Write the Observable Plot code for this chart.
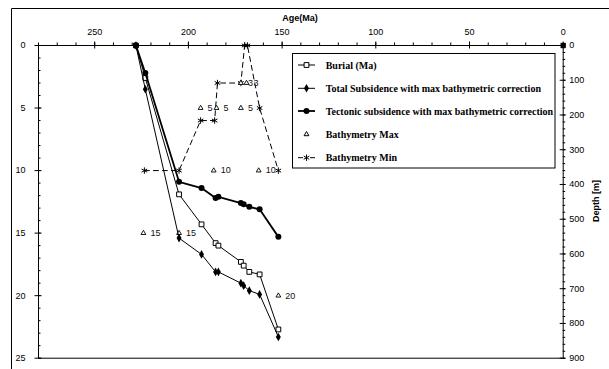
<!DOCTYPE html>
<html><head><meta charset="utf-8">
<script src="https://cdn.jsdelivr.net/npm/d3@7"></script>
<script src="https://cdn.jsdelivr.net/npm/@observablehq/plot@0.6"></script>
<style>body{margin:0;background:#fff}#chart svg{display:block}</style>
</head><body><div id="chart"></div>
<script>
// ---- data ----
const ages      = [228, 223, 205, 193, 185.5, 184, 172, 170.5, 167.5, 162, 152];
const burial    = [0, 2.6, 11.9, 14.3, 15.8, 16.0, 17.3, 17.6, 18.1, 18.3, 22.7];
const total     = [0, 3.5, 15.4, 16.7, 18.1, 18.1, 19.0, 19.2, 19.6, 19.9, 23.3];
const tectonic  = [0, 2.2, 10.9, 11.4, 12.2, 12.1, 12.6, 12.7, 12.9, 13.1, 15.3];

const bathyMinAges = [223.5, 205, 193.5, 186, 184.5, 172, 170, 168.5, 162, 152];
const bathyMin     = [10, 10, 6, 6, 3, 3, 0, 0, 5, 10];

const bathyMaxAges = [224, 205, 193.5, 186.5, 185, 172, 172, 169, 162.5, 152];
const bathyMax     = [15, 15, 5, 10, 5, 5, 3, 3, 10, 20];

const anchorAges = [0];     // secondary-axis series point (0 Ma, 0 m)
const anchorDepthM = [0];

const ageTicks = [250, 200, 150, 100, 50, 0];
const ageMinor = d3.range(0, 281, 10);
const depthTicks = [0, 5, 10, 15, 20, 25];
const depthMinor = d3.range(0, 26, 1);
const meterTicks = d3.range(0, 901, 100);
const meterMinor = d3.range(0, 901, 20);
const M_PER_UNIT = 900 / 25;

const legendItems = [
  "Burial (Ma)",
  "Total Subsidence with max bathymetric correction",
  "Tectonic subsidence with max bathymetric correction",
  "Bathymetry Max",
  "Bathymetry Min"
];

// ---- tables ----
const burialT = ages.map((a, i) => ({age: a, depth: burial[i]}));
const totalT = ages.map((a, i) => ({age: a, depth: total[i]}));
const tectT = ages.map((a, i) => ({age: a, depth: tectonic[i]}));
const minT = bathyMinAges.map((a, i) => ({age: a, depth: bathyMin[i]}));
const maxT = bathyMaxAges.map((a, i) => ({age: a, depth: bathyMax[i]}));
const anchorT = anchorAges.map((a, i) => ({age: a, depth: anchorDepthM[i] / M_PER_UNIT}));

const SANS = "'Liberation Sans', Arial, sans-serif";
const SERIF = "'Liberation Serif', 'Times New Roman', serif";

const plot = Plot.plot({
  width: 609, height: 369,
  marginLeft: 38, marginRight: 46.3, marginTop: 45, marginBottom: 11.3,
  style: {background: "white", fontFamily: SANS, overflow: "visible"},
  x: {domain: [280, 0], axis: null},
  y: {domain: [0, 25], reverse: true, axis: null},
  marks: [
    Plot.frame({stroke: "black", strokeWidth: 1}),
    // top axis
    Plot.ruleX(ageMinor, {x: d => d, y1: () => 0, y2: () => 0, insetTop: 0, insetBottom: 2.5, stroke: "black"}),
    Plot.ruleX(ageTicks, {x: d => d, y1: () => 0, y2: () => 0, insetTop: 3.5, insetBottom: 3.5, stroke: "black"}),
    Plot.text(ageTicks, {x: d => d, y: () => 0, dy: -13, text: d => String(d), fontSize: 9, fill: "black"}),
    // left axis
    Plot.ruleY(depthMinor, {y: d => d, x1: () => 280, x2: () => 280, insetLeft: 0, insetRight: -2.5, stroke: "black"}),
    Plot.ruleY(depthTicks, {y: d => d, x1: () => 280, x2: () => 280, insetLeft: -3.5, insetRight: -3.5, stroke: "black"}),
    Plot.text(depthTicks, {x: () => 280, y: d => d, dx: -13, textAnchor: "end", text: d => String(d), fontSize: 9, fill: "black"}),
    // right axis (metres)
    Plot.ruleY(meterMinor, {y: m => m / M_PER_UNIT, x1: () => 0, x2: () => 0, insetLeft: 0, insetRight: -2.5, stroke: "black"}),
    Plot.ruleY(meterTicks, {y: m => m / M_PER_UNIT, x1: () => 0, x2: () => 0, insetLeft: -3, insetRight: -3, stroke: "black"}),
    Plot.text(meterTicks, {x: () => 0, y: m => m / M_PER_UNIT, dx: 6, textAnchor: "start", text: m => String(m), fontSize: 9, fill: "black"}),
    Plot.dot(anchorT, {x: "age", y: "depth", symbol: "square", r: 3, fill: "black"}),
    // bathymetry min
    Plot.line(minT, {x: "age", y: "depth", stroke: "black", strokeWidth: 1, strokeDasharray: "5,4"}),
    Plot.dot(minT, {x: "age", y: "depth", symbol: "asterisk", r: 3, stroke: "black", strokeWidth: 1}),
    // bathymetry max
    Plot.dot(maxT, {x: "age", y: "depth", symbol: "triangle2", r: 2.3, stroke: "black", fill: "white", strokeWidth: 0.9}),
    Plot.text(maxT, {x: "age", y: "depth", text: d => String(d.depth), dx: 7, textAnchor: "start", fontSize: 9, fill: "#111"}),
    // burial
    Plot.line(burialT, {x: "age", y: "depth", stroke: "black", strokeWidth: 1}),
    Plot.dot(burialT, {x: "age", y: "depth", symbol: "square", r: 2.7, fill: "white", stroke: "black", strokeWidth: 1}),
    // total subsidence
    Plot.line(totalT, {x: "age", y: "depth", stroke: "black", strokeWidth: 1}),
    Plot.dot(totalT, {x: "age", y: "depth", symbol: "diamond", r: 2.6, fill: "black"}),
    // tectonic subsidence
    Plot.line(tectT, {x: "age", y: "depth", stroke: "black", strokeWidth: 1.8}),
    Plot.dot(tectT, {x: "age", y: "depth", symbol: "circle", r: 3, fill: "black"})
  ]
});
document.getElementById("chart").append(plot);

// ---- decorations: outer frame, axis titles, legend ----
const svg = d3.select(plot);
svg.append("path").attr("d", "M11.5,369 V8.5 H609").attr("fill", "none").attr("stroke", "black");
svg.append("text").attr("x", 300).attr("y", 21).attr("text-anchor", "middle")
  .attr("font-family", SANS).attr("font-weight", "bold").attr("font-size", 9).text("Age(Ma)");
svg.append("text").attr("transform", "translate(599,201) rotate(-90)").attr("text-anchor", "middle")
  .attr("font-family", SANS).attr("font-weight", "bold").attr("font-size", 9).text("Depth [m]");

const lg = svg.append("g");
lg.append("rect").attr("x", 292.5).attr("y", 53.5).attr("width", 262.5).attr("height", 114.5)
  .attr("fill", "white").attr("stroke", "black");
const rows = [65, 88.3, 111, 134.3, 157.7];
const symFor = [
  {type: d3.symbolSquare, size: Math.PI * 2.7 * 2.7, fill: "white", stroke: "black", line: true},
  {type: d3.symbolDiamond, size: Math.PI * 2.6 * 2.6, fill: "black", stroke: "none", line: true},
  {type: d3.symbolCircle, size: Math.PI * 3 * 3, fill: "black", stroke: "none", line: true},
  {type: d3.symbolTriangle2, size: Math.PI * 2.3 * 2.3, fill: "white", stroke: "black", line: false},
  {type: d3.symbolAsterisk, size: Math.PI * 3 * 3, fill: "none", stroke: "black", line: true}
];
legendItems.forEach((label, i) => {
  const y = rows[i], s = symFor[i];
  if (s.line) {
    if (i === 4) {
      lg.append("line").attr("x1", 298).attr("x2", 303).attr("y1", y).attr("y2", y).attr("stroke", "black");
      lg.append("line").attr("x1", 310).attr("x2", 315).attr("y1", y).attr("y2", y).attr("stroke", "black");
    } else {
      lg.append("line").attr("x1", 298).attr("x2", 315).attr("y1", y).attr("y2", y)
        .attr("stroke", "black").attr("stroke-width", i === 2 ? 1.8 : 1);
    }
  }
  lg.append("path").attr("d", d3.symbol(s.type, s.size)()).attr("transform", `translate(306.5,${y})`)
    .attr("fill", s.fill).attr("stroke", s.stroke);
  lg.append("text").attr("x", 325.7).attr("y", y + 3.5).attr("text-anchor", "start").attr("font-family", SERIF)
    .attr("font-weight", "bold").attr("font-size", 10).text(label);
});
</script>
</body></html>
